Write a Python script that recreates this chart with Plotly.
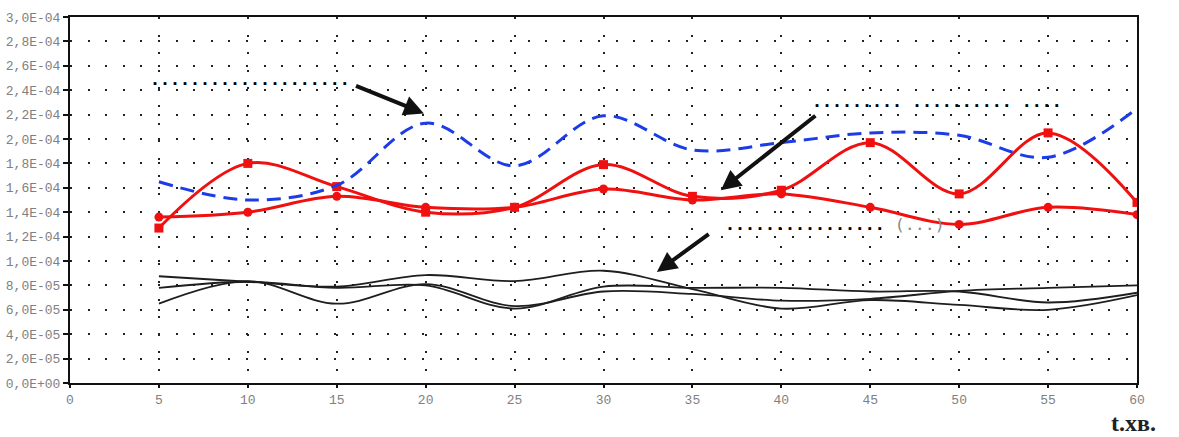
import plotly.graph_objects as go

# ---- data ----
t = [5, 10, 15, 20, 25, 30, 35, 40, 45, 50, 55, 60]

blue_dash = [1.65e-4, 1.50e-4, 1.62e-4, 2.13e-4, 1.78e-4, 2.19e-4, 1.91e-4,
             1.97e-4, 2.05e-4, 2.03e-4, 1.85e-4, 2.25e-4]
red_square = [1.27e-4, 1.80e-4, 1.61e-4, 1.40e-4, 1.44e-4, 1.79e-4, 1.53e-4,
              1.58e-4, 1.97e-4, 1.55e-4, 2.05e-4, 1.48e-4]
red_circle = [1.36e-4, 1.40e-4, 1.53e-4, 1.44e-4, 1.44e-4, 1.59e-4, 1.50e-4,
              1.55e-4, 1.44e-4, 1.30e-4, 1.44e-4, 1.38e-4]
black_1 = [8.75e-5, 8.3e-5, 7.9e-5, 8.85e-5, 8.35e-5, 9.2e-5, 7.7e-5,
           6.1e-5, 6.8e-5, 6.4e-5, 6.0e-5, 7.2e-5]
black_2 = [7.8e-5, 8.3e-5, 7.8e-5, 8.0e-5, 6.1e-5, 7.9e-5, 7.8e-5,
           7.8e-5, 7.5e-5, 7.5e-5, 6.6e-5, 7.4e-5]
black_3 = [6.5e-5, 8.35e-5, 6.5e-5, 8.1e-5, 6.3e-5, 7.5e-5, 7.3e-5,
           6.75e-5, 6.9e-5, 7.55e-5, 7.8e-5, 8.0e-5]

x_ticks = [0, 5, 10, 15, 20, 25, 30, 35, 40, 45, 50, 55, 60]
x_tick_labels = ["0", "5", "10", "15", "20", "25", "30", "35", "40", "45", "50", "55", "60"]
y_ticks = [i * 2e-5 for i in range(16)]
y_tick_labels = ["0,0E+00", "2,0E-05", "4,0E-05", "6,0E-05", "8,0E-05", "1,0E-04",
                 "1,2E-04", "1,4E-04", "1,6E-04", "1,8E-04", "2,0E-04", "2,2E-04",
                 "2,4E-04", "2,6E-04", "2,8E-04", "3,0E-04"]
x_title = "t.хв."

fig = go.Figure()

for ys in (black_1, black_2, black_3):
    fig.add_trace(go.Scatter(x=t, y=ys, mode="lines",
                             line=dict(color="#1e1e1e", width=1.8, shape="spline"),
                             showlegend=False, hoverinfo="skip"))

fig.add_trace(go.Scatter(x=t, y=red_circle, mode="lines+markers",
                         line=dict(color="#f01010", width=3, shape="spline"),
                         marker=dict(symbol="circle", size=9, color="#f01010"),
                         showlegend=False))
fig.add_trace(go.Scatter(x=t, y=red_square, mode="lines+markers",
                         line=dict(color="#f01010", width=3, shape="spline"),
                         marker=dict(symbol="square", size=9, color="#f01010"),
                         showlegend=False))
fig.add_trace(go.Scatter(x=t, y=blue_dash, mode="lines",
                         line=dict(color="#1c3ce8", width=3, shape="spline", dash="14px,8px"),
                         showlegend=False))

dot_font = dict(family="DejaVu Sans Mono", size=16.6, color="#000000")

# dotted (lost) label lines
fig.add_annotation(x=4.4, y=2.49e-4, xref="x", yref="y", xanchor="left", yanchor="middle",
                   text="<b>....................</b>", showarrow=False, font=dot_font)
fig.add_annotation(x=41.6, y=2.31e-4, xref="x", yref="y", xanchor="left", yanchor="middle",
                   text="<b>......... .......... ....</b>", showarrow=False, font=dot_font)
fig.add_annotation(x=36.7, y=1.30e-4, xref="x", yref="y", xanchor="left", yanchor="middle",
                   text="<b>................</b> <span style='color:#888'>(...)</span>",
                   showarrow=False, font=dot_font)

# arrows
arrow_style = dict(showarrow=True, arrowhead=2, arrowsize=1.0, arrowwidth=4,
                   arrowcolor="#111111", xref="x", yref="y", axref="x", ayref="y", text="")
fig.add_annotation(x=19.9, y=2.21e-4, ax=16.0, ay=2.44e-4, **arrow_style)
fig.add_annotation(x=36.6, y=1.58e-4, ax=42.0, ay=2.20e-4, **arrow_style)
fig.add_annotation(x=33.0, y=9.1e-5, ax=36.0, ay=1.23e-4, **arrow_style)

# axis title bottom-right
fig.add_annotation(x=0.997, y=-0.1465, xref="paper", yref="paper", xanchor="center", yanchor="bottom",
                   text="<b>" + x_title + "</b>", showarrow=False, borderpad=0,
                   font=dict(family="Liberation Serif", size=24, color="#222222"))

tick_font = dict(family="Liberation Mono", size=13, color="#808080")

fig.update_xaxes(range=[0, 60], tickvals=x_ticks, ticktext=x_tick_labels,
                 showline=True, linecolor="#111111", linewidth=2, mirror=True,
                 ticks="outside", ticklen=3, tickwidth=2, tickcolor="#111111",
                 showgrid=True, gridcolor="#222222", gridwidth=2, griddash="2px,15.6px",
                 zeroline=False, tickfont=tick_font)
fig.update_yaxes(range=[0, 3e-4], tickvals=y_ticks, ticktext=y_tick_labels,
                 showline=True, linecolor="#111111", linewidth=2, mirror=True,
                 ticks="outside", ticklen=5, tickwidth=2, tickcolor="#111111",
                 showgrid=True, gridcolor="#222222", gridwidth=2, griddash="2px,15.6px",
                 zeroline=False, tickfont=tick_font)

fig.update_layout(width=1179, height=437,
                  margin=dict(l=70, r=42, t=17, b=54, autoexpand=False),
                  paper_bgcolor="white", plot_bgcolor="white",
                  showlegend=False)

fig.write_html("out.html", config={"displayModeBar": False},
               post_script="document.body.style.margin='0';document.body.style.overflow='hidden';")
